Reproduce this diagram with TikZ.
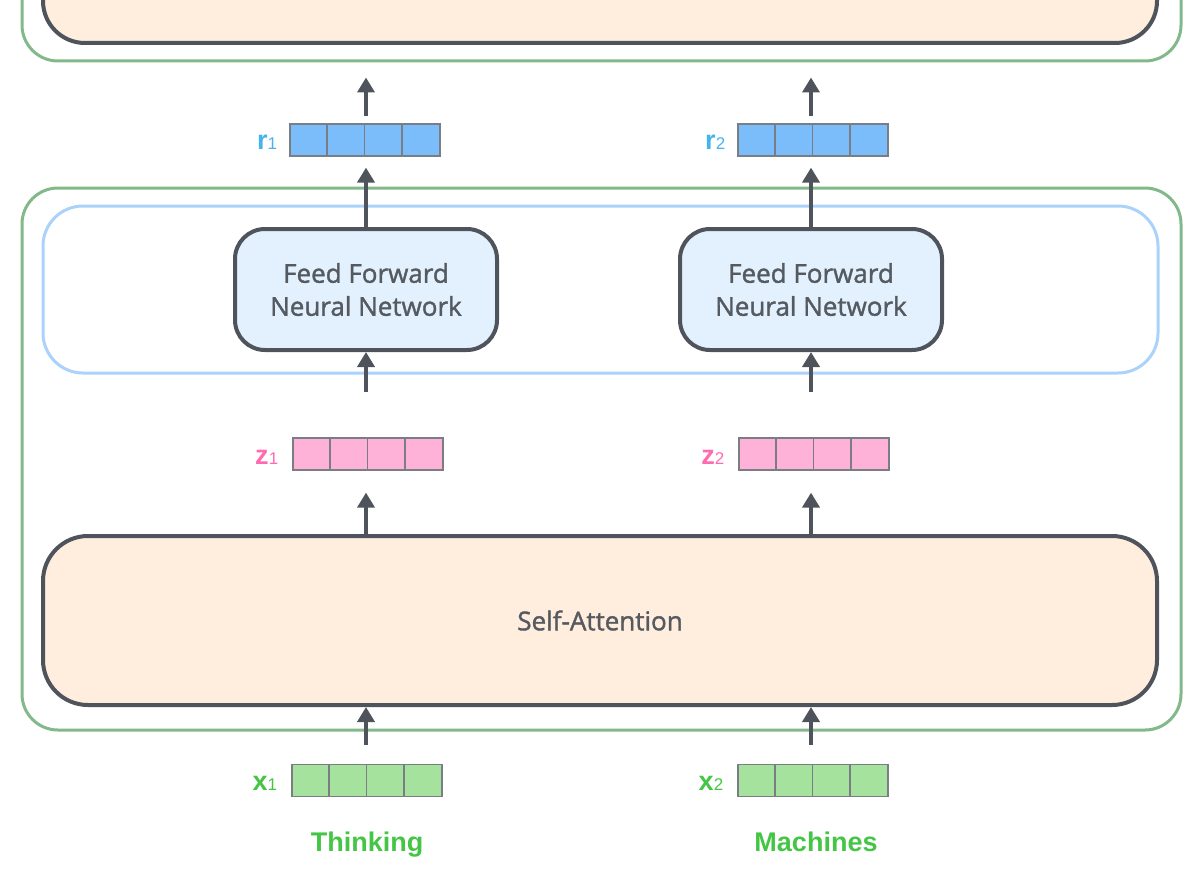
\documentclass[tikz,border=0pt]{standalone}
\usepackage{fontspec}
\setmainfont{Open Sans}
\newfontfamily\boxfont{Open Sans}[FakeBold=1.4]
\newfontfamily\labfont{Liberation Sans}
\usetikzlibrary{arrows.meta}
\definecolor{darkc}{HTML}{4F545C}
\definecolor{greenc}{HTML}{82B88A}
\definecolor{bluec}{HTML}{AAD2FB}
\definecolor{orangef}{HTML}{FFEEDE}
\definecolor{ffnf}{HTML}{E3F1FE}
\definecolor{rfill}{HTML}{7BBDFB}
\definecolor{rlab}{HTML}{45B4EC}
\definecolor{zfill}{HTML}{FFB2D8}
\definecolor{zlab}{HTML}{FF6AB0}
\definecolor{xfill}{HTML}{A4E29D}
\definecolor{xlab}{HTML}{45C545}
\definecolor{cellc}{HTML}{7A7E84}
\definecolor{textc}{HTML}{555A60}
\begin{document}
\begin{tikzpicture}[x=1pt,y=-1pt,
  greenbox/.style={draw=greenc,line width=3pt,rounded corners=36pt,inner sep=0pt},
  bluebox/.style={draw=bluec,line width=3pt,rounded corners=40pt,inner sep=0pt},
  darkbox/.style={draw=darkc,line width=4pt,inner sep=0pt,text=textc,font=\boxfont\fontsize{26}{33}\selectfont,align=center},
  vecbox/.style={draw=cellc,line width=1.2pt,minimum width=150pt,minimum height=32pt,inner sep=0pt},
  cellline/.style={draw=cellc,line width=1.2pt},
  veclab/.style={anchor=east,inner sep=0pt},
  wordlab/.style={font=\labfont\bfseries\fontsize{27}{27}\selectfont,text=xlab,inner sep=0pt,anchor=base},
  arr/.style={draw=darkc,line width=4pt,-{Triangle[width=17pt,length=15pt]}}
]
\useasboundingbox (0,0) rectangle (1198,872);
\begin{scope}
\clip (0,0) rectangle (1198,872);
\node[greenbox,minimum width=1159pt,minimum height=181pt] (topgreen) at (601.5,-29.5) {};
\node[darkbox,fill=orangef,rounded corners=42pt,minimum width=1114pt,minimum height=143pt] (topsa) at (600,-28.5) {};
\end{scope}
% encoder box
\node[greenbox,minimum width=1159pt,minimum height=542pt] (enc) at (601.5,459) {};
\node[bluebox,minimum width=1115pt,minimum height=167pt] (ffnlayer) at (600.5,289.5) {};
% FFN boxes
\node[darkbox,fill=ffnf,rounded corners=30pt,minimum width=262pt,minimum height=121pt] (ffn1) at (366,289.5) {Feed Forward\\Neural Network};
\node[darkbox,fill=ffnf,rounded corners=30pt,minimum width=262pt,minimum height=121pt] (ffn2) at (811,289.5) {Feed Forward\\Neural Network};
% self-attention
\node[darkbox,fill=orangef,rounded corners=45pt,minimum width=1114pt,minimum height=169pt] (sa) at (600,620.5) {Self-Attention};
% vectors
\node[vecbox,fill=rfill] (r1) at (365,140) {};
\node[vecbox,fill=rfill] (r2) at (813,140) {};
\node[vecbox,fill=zfill] (z1) at (368,454) {};
\node[vecbox,fill=zfill] (z2) at (814,454) {};
\node[vecbox,fill=xfill] (x1) at (367,780.5) {};
\node[vecbox,fill=xfill] (x2) at (813,780.5) {};
\foreach \v in {r1,r2,z1,z2,x1,x2}{
  \foreach \i in {1,2,3}{
    \draw[cellline] ([xshift=\i*37.5pt]\v.south west) -- ([xshift=\i*37.5pt]\v.north west);
  }
}
% labels
\node[veclab,text=rlab] (lr1) at ([xshift=-12pt,yshift=-2pt]r1.west) {\labfont{\bfseries\fontsize{27}{27}\selectfont r}{\fontsize{17}{17}\selectfont 1}};
\node[veclab,text=rlab] (lr2) at ([xshift=-12pt,yshift=-2pt]r2.west) {\labfont{\bfseries\fontsize{27}{27}\selectfont r}{\fontsize{17}{17}\selectfont 2}};
\node[veclab,text=zlab] (lz1) at ([xshift=-14pt,yshift=-3pt]z1.west) {\labfont{\bfseries\fontsize{27}{27}\selectfont z}{\fontsize{17}{17}\selectfont 1}};
\node[veclab,text=zlab] (lz2) at ([xshift=-14pt,yshift=-3pt]z2.west) {\labfont{\bfseries\fontsize{27}{27}\selectfont z}{\fontsize{17}{17}\selectfont 2}};
\node[veclab,text=xlab] (lx1) at ([xshift=-14pt,yshift=-3pt]x1.west) {\labfont{\bfseries\fontsize{27}{27}\selectfont x}{\fontsize{17}{17}\selectfont 1}};
\node[veclab,text=xlab] (lx2) at ([xshift=-14pt,yshift=-3pt]x2.west) {\labfont{\bfseries\fontsize{27}{27}\selectfont x}{\fontsize{17}{17}\selectfont 2}};
\node[wordlab] (w1) at (367,851) {Thinking};
\node[wordlab] (w2) at (816,851) {Machines};
% arrows
\draw[arr,shorten <=19pt] (ffn1 |- x1.north) -- (ffn1 |- sa.south);
\draw[arr,shorten <=19pt] (ffn2 |- x2.north) -- (ffn2 |- sa.south);
\draw[arr,shorten >=22pt] (ffn1 |- sa.north) -- (ffn1 |- z1.south);
\draw[arr,shorten >=22pt] (ffn2 |- sa.north) -- (ffn2 |- z2.south);
\draw[arr,shorten <=45pt] (ffn1 |- z1.north) -- (ffn1.south);
\draw[arr,shorten <=45pt] (ffn2 |- z2.north) -- (ffn2.south);
\draw[arr,shorten >=11pt] (ffn1.north) -- (ffn1 |- r1.south);
\draw[arr,shorten >=11pt] (ffn2.north) -- (ffn2 |- r2.south);
\draw[arr,shorten <=7pt,shorten >=15pt] (ffn1 |- r1.north) -- (ffn1 |- topgreen.south);
\draw[arr,shorten <=7pt,shorten >=15pt] (ffn2 |- r2.north) -- (ffn2 |- topgreen.south);
\end{tikzpicture}
\end{document}
